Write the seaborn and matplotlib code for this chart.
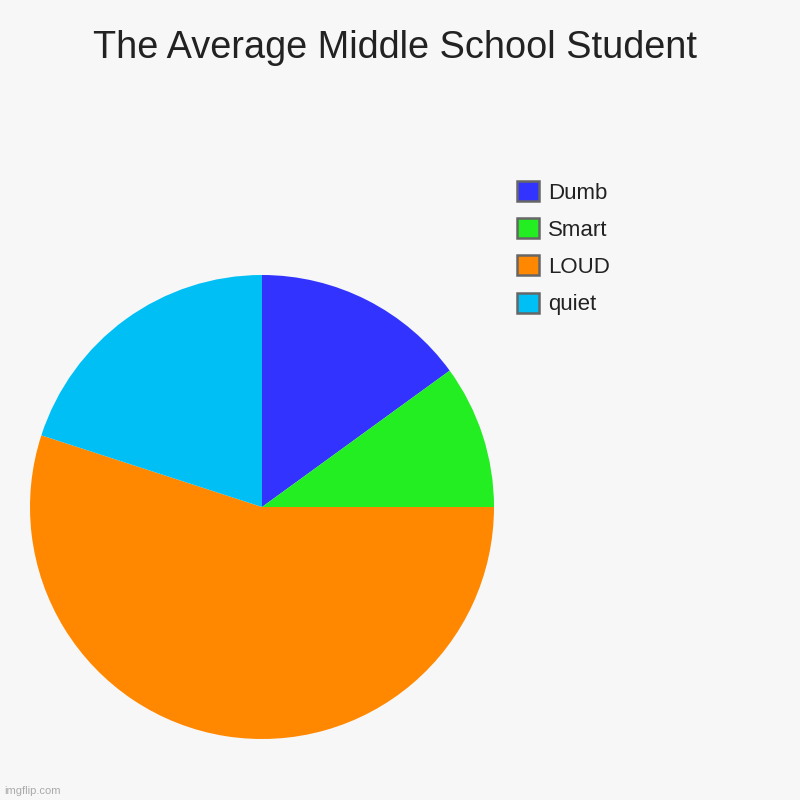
import matplotlib
matplotlib.use("Agg")
import matplotlib.pyplot as plt
import seaborn as sns

categories = ["Dumb", "Smart", "LOUD", "quiet"]
values = [15, 10, 55, 20]
colors = ["#3333FF", "#22EE22", "#FF8800", "#00BFF5"]

sns.set_theme(style="white")
plt.rcParams['font.family'] = ['Liberation Sans', 'DejaVu Sans']

fig = plt.figure(figsize=(8, 8), dpi=100, facecolor="#F7F7F7")
cx, cy, r = 262 / 800, 1 - 507 / 800, 232 / 800
ax = fig.add_axes([cx - r, cy - r, 2 * r, 2 * r])
ax.set_facecolor("#F7F7F7")
wedges, _ = ax.pie(values, colors=colors, startangle=90, counterclock=False,
                   radius=1, wedgeprops=dict(linewidth=0))
ax.set_xlim(-1, 1)
ax.set_ylim(-1, 1)
ax.set_aspect("equal")
ax.axis("off")

fig.text(395 / 800, 1 - 48 / 800, "The Average Middle School Student", ha="center", va="center",
         fontsize=27.3, color="#222222")

leg = fig.legend(wedges, categories, loc="upper left", bbox_to_anchor=(517 / 800, 1 - 181 / 800),
                 frameon=False, fontsize=16, handlelength=1.0, handleheight=1.0,
                 handletextpad=0.4, labelspacing=0.66, borderpad=0, borderaxespad=0,
                 labelcolor="#222222")
for p in leg.get_patches():
    p.set_edgecolor("#666666")
    p.set_linewidth(1.8)

fig.text(4 / 800, 1 - 791 / 800, "imgflip.com", ha="left", va="center", fontsize=8, color="#AAAAAA")

fig.savefig("out.png", dpi=100, facecolor="#F7F7F7")
